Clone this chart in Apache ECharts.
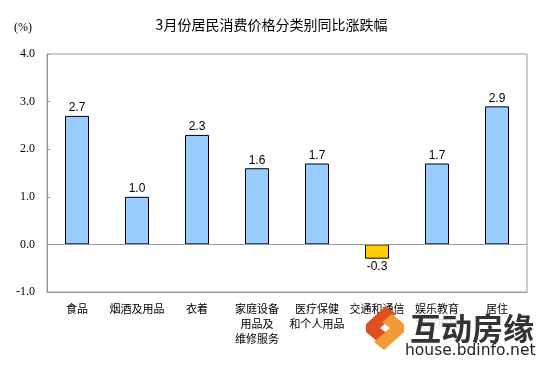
<!DOCTYPE html>
<html><head><meta charset="utf-8">
<script src="https://cdn.jsdelivr.net/npm/echarts@6/dist/echarts.min.js"></script>
<style>html,body{margin:0;padding:0;background:#fff}#c{width:543px;height:365px}</style>
</head><body><div id="c"></div>
<script>
const categories = ['食品','烟酒及用品','衣着','家庭设备\n用品及\n维修服务','医疗保健\n和个人用品','交通和通信','娱乐教育\n文化用品','居住'];
const values = [2.7, 1.0, 2.3, 1.6, 1.7, -0.3, 1.7, 2.9];
const yTicks = [-1, 0, 1, 2, 3, 4];

const chart = echarts.init(document.getElementById('c'));
chart.setOption({
  animation: false,
  backgroundColor: '#fff',
  title: {
    text: '3月份居民消费价格分类别同比涨跌幅',
    left: 'center', top: 13,
    textStyle: {fontFamily: 'Noto Sans CJK SC', fontSize: 14, fontWeight: 'normal', color: '#000'}
  },
  graphic: [
    {type: 'text', left: 14, top: 22, style: {text: '(%)', font: '12px "Liberation Serif"', fill: '#000'}},
    {type: 'rect', z: 100, shape: {x: 405, y: 315, width: 134, height: 50}, style: {fill: 'rgba(255,255,255,0.85)'}},
    {type: 'text', z: 101, left: 410, top: 313, style: {text: '互动房缘', font: 'bold 31px "Noto Sans CJK SC"', fill: '#333'}},
    {type: 'text', z: 101, left: 405, top: 343, style: {text: 'house.bdinfo.net', font: '15.5px "DejaVu Sans"', fill: '#222'}},
    {type: 'polygon', z: 101, shape: {points: [[386,306],[366,324],[366,332],[378,342],[388,334],[380,328],[396,314]]}, style: {fill: '#e0501e'}},
    {type: 'polygon', z: 101, shape: {points: [[384,350],[404,332],[404,324],[392,314],[382,322],[390,328],[374,342]]}, style: {fill: '#f29a35'}}
  ],
  grid: {left: 47, right: 16, top: 54, bottom: 73, show: true, borderColor: '#999', borderWidth: 1},
  xAxis: {
    type: 'category', data: categories,
    axisLine: {onZero: false, lineStyle: {color: '#999'}},
    axisTick: {show: false},
    axisLabel: {interval: 0, margin: 9, fontFamily: 'Noto Sans CJK SC', fontSize: 11, color: '#000', lineHeight: 15}
  },
  yAxis: {
    type: 'value', min: yTicks[0], max: yTicks[yTicks.length - 1], interval: 1,
    axisLine: {show: true, lineStyle: {color: '#999'}},
    axisTick: {show: true, inside: true, length: 3, lineStyle: {color: '#999'}},
    splitLine: {show: false},
    axisLabel: {margin: 12, fontFamily: 'Liberation Serif', fontSize: 12, color: '#000', formatter: v => v.toFixed(1)}
  },
  series: [{
    type: 'bar', barWidth: 24,
    data: values.map(v => ({
      value: v,
      itemStyle: {color: v < 0 ? '#FFCC00' : '#99CCFF', borderColor: '#000', borderWidth: 1},
      label: {show: true, position: v < 0 ? 'bottom' : 'top', distance: 2, formatter: p => p.value.toFixed(1),
        fontFamily: 'Liberation Sans', fontSize: 12, color: '#000'}
    })),
    markLine: {
      silent: true, symbol: 'none', label: {show: false},
      lineStyle: {color: '#999', type: 'solid', width: 1},
      data: [{yAxis: 0}]
    }
  }]
});
</script></body></html>
